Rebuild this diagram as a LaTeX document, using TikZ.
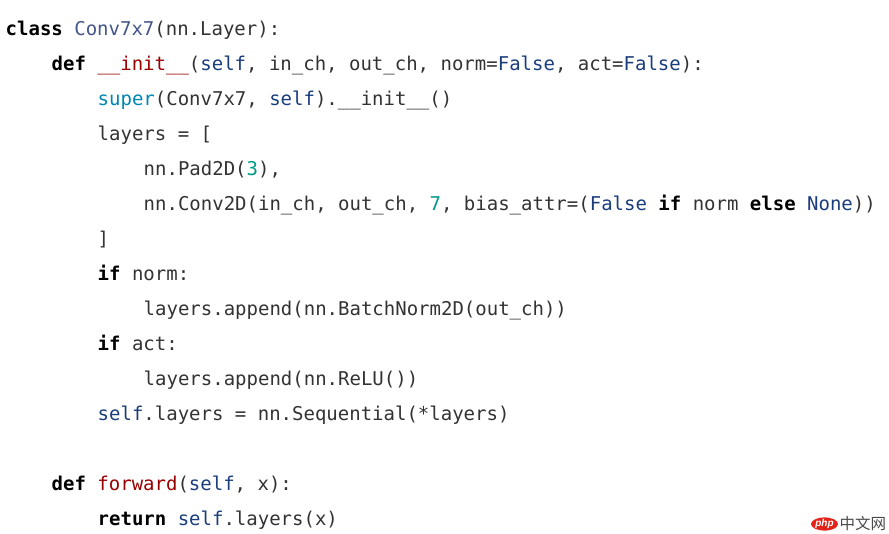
\documentclass[tikz,border=0pt]{standalone}
\usepackage{fontspec}
\usepackage{xcolor}
\usetikzlibrary{shapes.geometric}
\newfontfamily\codefont{DejaVu Sans Mono}
\newfontfamily\wmfont{Liberation Sans}
\newfontfamily\cjk{Noto Sans CJK SC}
\definecolor{codetext}{HTML}{333333}
\definecolor{clsname}{HTML}{445588}
\definecolor{fnname}{HTML}{990000}
\definecolor{selfblue}{HTML}{1A3D7C}
\definecolor{bltin}{HTML}{0086B3}
\definecolor{numteal}{HTML}{009988}
\definecolor{phpred}{HTML}{E2231A}
\definecolor{wmgray}{HTML}{4A4A4A}
\newcommand{\kw}[1]{{\bfseries\color{black}#1}}
\newcommand{\clsn}[1]{{\color{clsname}#1}}
\newcommand{\fname}[1]{{\color{fnname}#1}}
\newcommand{\slf}[1]{{\color{selfblue}#1}}
\newcommand{\bltn}[1]{{\color{bltin}#1}}
\newcommand{\numv}[1]{{\color{numteal}#1}}
\frenchspacing
\begin{document}
\begin{tikzpicture}
  [x=1pt,y=-1pt,
   codeline/.style={anchor=base west,inner sep=0pt,text=codetext,
     font=\codefont\fontsize{19}{19}\selectfont}]
  \useasboundingbox (0,0) rectangle (889,533);
  \fill[white] (0,0) rectangle (889,533);
  \node[codeline] (l0)  at (5.5,35.5)   {\kw{class} \clsn{Conv7x7}(nn.Layer):};
  \node[codeline] (l1)  at (51.5,70.5)  {\kw{def} \fname{\_\_init\_\_}(\slf{self}, in\_ch, out\_ch, norm=\slf{False}, act=\slf{False}):};
  \node[codeline] (l2)  at (97.5,105.5) {\bltn{super}(Conv7x7, \slf{self}).\_\_init\_\_()};
  \node[codeline] (l3)  at (97.5,140.5) {layers = [};
  \node[codeline] (l4)  at (143.5,175.5) {nn.Pad2D(\numv{3}),};
  \node[codeline] (l5)  at (143.5,210.5) {nn.Conv2D(in\_ch, out\_ch, \numv{7}, bias\_attr=(\slf{False} \kw{if} norm \kw{else} \slf{None}))};
  \node[codeline] (l6)  at (97.5,245.5) {]};
  \node[codeline] (l7)  at (97.5,280.5) {\kw{if} norm:};
  \node[codeline] (l8)  at (143.5,315.5) {layers.append(nn.BatchNorm2D(out\_ch))};
  \node[codeline] (l9)  at (97.5,350.5) {\kw{if} act:};
  \node[codeline] (l10) at (143.5,385.5) {layers.append(nn.ReLU())};
  \node[codeline] (l11) at (97.5,420.5) {\slf{self}.layers = nn.Sequential(*layers)};
  \node[codeline] (l12) at (51.5,490.5) {\kw{def} \fname{forward}(\slf{self}, x):};
  \node[codeline] (l13) at (97.5,525.5) {\kw{return} \slf{self}.layers(x)};
  % watermark
  \node[ellipse,fill=phpred,text=white,inner sep=0pt,minimum width=27,minimum height=11,
    font=\wmfont\bfseries\itshape\fontsize{10}{10}\selectfont] (php) at (824.5,524) {php};
  \node[anchor=west,inner sep=0pt,text=wmgray,font=\cjk\fontsize{15.5}{15.5}\selectfont]
    (cn) at (839.5,524) {中文网};
\end{tikzpicture}
\end{document}
